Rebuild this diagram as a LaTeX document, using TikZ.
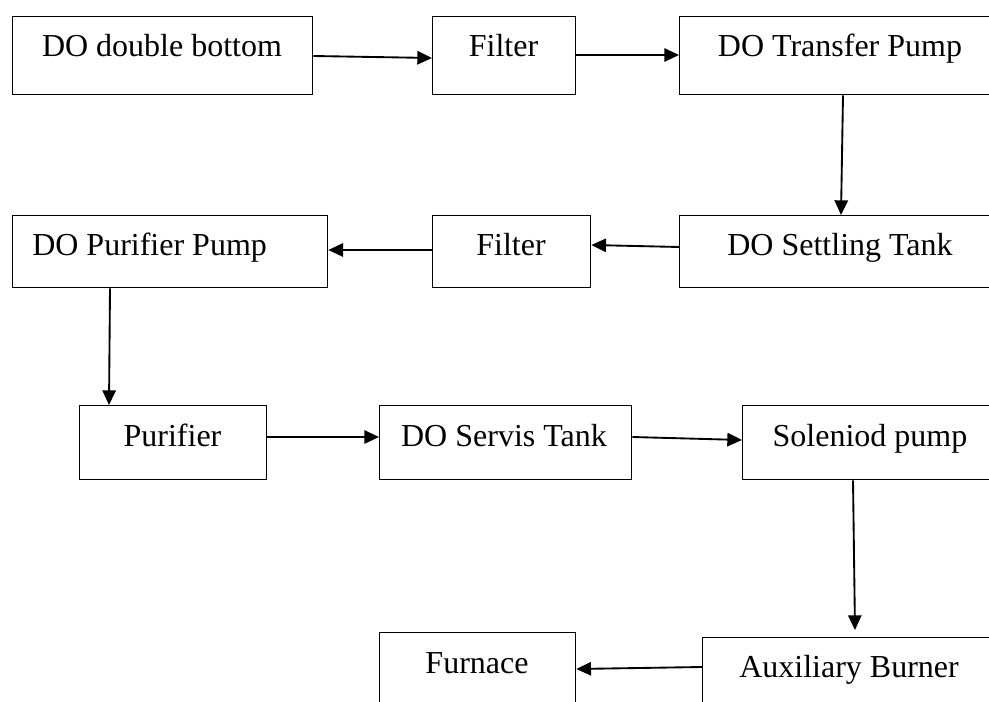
\documentclass[tikz,border=0pt]{standalone}
\usepackage{fontspec}
\setmainfont{Liberation Serif}
\usetikzlibrary{arrows.meta,calc}
\tikzset{
 box/.style={draw, line width=1pt, rectangle, inner sep=0pt, anchor=north west},
 lbl/.style={font=\fontsize{24pt}{28pt}\selectfont, anchor=base, inner sep=0pt},
 arr/.style={line width=1.4pt, -{Triangle[length=11pt,width=10pt]}}
}
\newcommand\mybox[5]{\node[box, minimum width=#4*0.75pt, minimum height=#5*0.75pt] (#1) at (#2,#3) {};}
\begin{document}
\begin{tikzpicture}[x=0.75pt,y=-0.75pt]
\useasboundingbox (0,0) rectangle (989,702);
\clip (0,0) rectangle (989,702);
\mybox{dob}{12}{16}{300}{78}
\mybox{fa}{432}{16}{143}{78}
\mybox{tp}{679}{16}{322}{78}
\mybox{st}{679}{215}{322}{72}
\mybox{fb}{432}{215}{158}{72}
\mybox{pp}{12}{215}{315}{72}
\mybox{pu}{79}{405}{187}{74}
\mybox{sv}{379}{405}{252}{74}
\mybox{sp}{742}{405}{256}{74}
\mybox{fu}{379}{632}{196}{100}
\mybox{ab}{702}{637}{294}{100}

\node[lbl] (tdob) at (162,57) {DO double bottom};
\node[lbl] (tfa) at (503.5,57) {Filter};
\node[lbl] (ttp) at (840,57) {DO Transfer Pump};
\node[lbl] (tst) at (840,256) {DO Settling Tank};
\node[lbl] (tfb) at (511,256) {Filter};
\node[lbl, anchor=base west] (tpp) at (32,256) {DO Purifier Pump};
\node[lbl] (tpu) at (172.5,446) {Purifier};
\node[lbl] (tsv) at (504,446) {DO Servis Tank};
\node[lbl] (tsp) at (870,446) {Soleniod pump};
\node[lbl] (tfu) at (477,673) {Furnace};
\node[lbl] (tab) at (849,677) {Auxiliary Burner};

\draw[arr] ($(dob.north east)+(0,40)$) -- ($(fa.north west)+(0,42)$);
\draw[arr] ($(fa.north east)+(0,39)$) -- ($(tp.north west)+(0,39)$);
\draw[arr] ($(tp.south west)+(164,0)$) -- ($(st.north west)+(162,0)$);
\draw[arr] ($(st.north west)+(0,32)$) -- ($(fb.north east)+(0,30)$);
\draw[arr] ($(fb.north west)+(0,35)$) -- ($(pp.north east)+(0,35)$);
\draw[arr] ($(pp.south west)+(98,0)$) -- ($(pu.north west)+(30,0)$);
\draw[arr] ($(pu.north east)+(0,32)$) -- ($(sv.north west)+(0,32)$);
\draw[arr] ($(sv.north east)+(0,32)$) -- ($(sp.north west)+(0,35)$);
\draw[arr] ($(sp.south west)+(111,0)$) -- ($(ab.north west)+(153,-7)$);
\draw[arr] ($(ab.north west)+(0,30)$) -- ($(fu.north east)+(0,37)$);
\end{tikzpicture}
\end{document}
